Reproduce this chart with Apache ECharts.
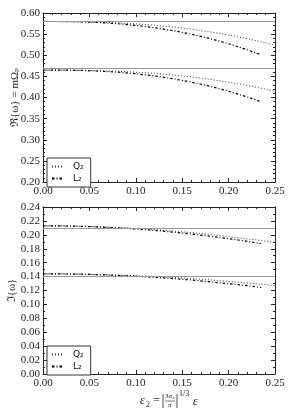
<!DOCTYPE html>
<html><head><meta charset="utf-8">
<script src="https://cdn.jsdelivr.net/npm/echarts@6/dist/echarts.min.js"></script>
<style>html,body{margin:0;padding:0;background:#fff}#c{width:293px;height:412px}</style>
</head><body><div id="c"></div>
<script>
// x samples
const xQ = [0, 0.02, 0.04, 0.06, 0.08, 0.10, 0.12, 0.14, 0.16, 0.18, 0.20, 0.22, 0.24, 0.25];
const xL = [0, 0.02, 0.04, 0.06, 0.08, 0.10, 0.12, 0.14, 0.16, 0.18, 0.20, 0.22, 0.235];
// top panel: Re{omega}
const reQ2a = [0.580, 0.5799, 0.5794, 0.5784, 0.5768, 0.5743, 0.5711, 0.5669, 0.5616, 0.5554, 0.5479, 0.5393, 0.5294, 0.524];
const reQ2b = [0.465, 0.4649, 0.4645, 0.4636, 0.4621, 0.4599, 0.4571, 0.4533, 0.4486, 0.4430, 0.4363, 0.4287, 0.4198, 0.415];
const reL2a = [0.580, 0.5798, 0.5791, 0.5774, 0.5747, 0.5707, 0.5653, 0.5584, 0.5498, 0.5394, 0.5272, 0.5130, 0.501];
const reL2b = [0.465, 0.4648, 0.4641, 0.4625, 0.4600, 0.4562, 0.4510, 0.4445, 0.4363, 0.4265, 0.4149, 0.4014, 0.390];
const reRef = [0.58, 0.465];
// bottom panel: Im{omega}
const imQ2a = [0.213, 0.2128, 0.2124, 0.2116, 0.2105, 0.2092, 0.2075, 0.2055, 0.2032, 0.2006, 0.1976, 0.1944, 0.1909, 0.189];
const imQ2b = [0.144, 0.1439, 0.1436, 0.1430, 0.1422, 0.1413, 0.1401, 0.1387, 0.1371, 0.1352, 0.1331, 0.1308, 0.1284, 0.127];
const imL2a = [0.213, 0.2128, 0.2123, 0.2113, 0.2100, 0.2084, 0.2063, 0.2040, 0.2012, 0.1980, 0.1945, 0.1907, 0.1875];
const imL2b = [0.144, 0.1438, 0.1435, 0.1427, 0.1417, 0.1405, 0.1389, 0.1371, 0.1350, 0.1325, 0.1298, 0.1269, 0.1245];
const imRef = [0.213, 0.144];
const names = ['Q\u2082', 'L\u2082'];

const FONT = '"Liberation Serif", "DejaVu Serif", serif';
const pairs = (xs, ys) => xs.map((x, i) => [x, ys[i]]);
const styleQ = {color: '#333', width: 1, type: [1, 2]};
const styleL = {color: '#000', width: 1.2, type: [2.5, 2, 1, 2]};

function xAx(grid, pos, labels) {
  return {type: 'value', gridIndex: grid, position: pos, min: 0, max: 0.25, interval: 0.05,
    axisLine: {show: true, onZero: false, lineStyle: {color: '#222', width: 1}},
    axisTick: {show: true, inside: true, length: 4, lineStyle: {color: '#222'}},
    minorTick: {show: true, splitNumber: 5, length: 2, lineStyle: {color: '#222'}},
    splitLine: {show: false},
    axisLabel: {show: labels, margin: 4, fontFamily: FONT, fontSize: 11, color: '#222',
      formatter: v => v.toFixed(2)}};
}
function yAx(grid, pos, labels, min, max, itv, minor, name, gap) {
  return {type: 'value', gridIndex: grid, position: pos, min: min, max: max, interval: itv,
    axisLine: {show: true, onZero: false, lineStyle: {color: '#222', width: 1}},
    axisTick: {show: true, inside: true, length: 4, lineStyle: {color: '#222'}},
    minorTick: {show: true, splitNumber: minor, length: 2, lineStyle: {color: '#222'}},
    splitLine: {show: false},
    name: name || '', nameLocation: 'middle', nameGap: gap || 0, nameMoveOverlap: false,
    nameTextStyle: {fontFamily: FONT, fontSize: 11, color: '#222',
      rich: {s: {fontFamily: '"DejaVu Serif", serif', fontSize: 10, color: '#222'}}},
    axisLabel: {show: labels, margin: 3, fontFamily: FONT, fontSize: 11, color: '#222',
      formatter: v => v.toFixed(2)}};
}
function ln(name, xi, yi, xs, ys, st) {
  return {type: 'line', name: name, xAxisIndex: xi, yAxisIndex: yi, data: pairs(xs, ys),
    showSymbol: false, symbol: 'none', lineStyle: st, itemStyle: {color: st.color},
    z: 3, silent: true, animation: false};
}
function refLine(xi, yi, vals) {
  return {type: 'line', xAxisIndex: xi, yAxisIndex: yi, data: [], silent: true, animation: false,
    markLine: {silent: true, symbol: 'none', label: {show: false},
      lineStyle: {color: '#999', width: 1, type: 'solid'},
      data: vals.map(v => ({yAxis: v}))}};
}
const legendBase = {orient: 'vertical', left: 47, data: names, itemWidth: 12, itemHeight: 8, itemGap: 3,
  backgroundColor: '#fff', borderColor: '#333', borderWidth: 1, borderRadius: 0, padding: [4, 7, 4, 4],
  selectedMode: false, itemStyle: {opacity: 0},
  textStyle: {fontFamily: '"DejaVu Sans", sans-serif', fontSize: 9, color: '#111', padding: [0, 0, 0, 4]}};

const chart = echarts.init(document.getElementById('c'), null, {renderer: 'canvas'});
chart.setOption({
  animation: false,
  backgroundColor: '#fff',
  grid: [{left: 43, top: 13, width: 232, height: 169, containLabel: false, outerBoundsMode: 'none'},
         {left: 43, top: 207, width: 232, height: 167, containLabel: false, outerBoundsMode: 'none'}],
  xAxis: [xAx(0, 'bottom', true), xAx(0, 'top', false), xAx(1, 'bottom', true), xAx(1, 'top', false)],
  yAxis: [
    yAx(0, 'left', true, 0.2, 0.6, 0.05, 5, '\u211C{\u03C9} = m\u03A9{s|\u209A}', 22),
    yAx(0, 'right', false, 0.2, 0.6, 0.05, 5),
    yAx(1, 'left', true, 0, 0.24, 0.02, 2, '\u2111{\u03C9}', 25),
    yAx(1, 'right', false, 0, 0.24, 0.02, 2)
  ],
  legend: [Object.assign({}, legendBase, {top: 158}), Object.assign({}, legendBase, {top: 346})],
  series: [
    refLine(0, 0, reRef),
    refLine(2, 2, imRef),
    ln(names[0], 0, 0, xQ, reQ2a, styleQ),
    ln(names[0], 0, 0, xQ, reQ2b, styleQ),
    ln(names[1], 0, 0, xL, reL2a, styleL),
    ln(names[1], 0, 0, xL, reL2b, styleL),
    ln(names[0], 2, 2, xQ, imQ2a, styleQ),
    ln(names[0], 2, 2, xQ, imQ2b, styleQ),
    ln(names[1], 2, 2, xL, imL2a, styleL),
    ln(names[1], 2, 2, xL, imL2b, styleL)
  ],
  graphic: [{
    type: 'group', left: 140, top: 390,
    children: [
      {type: 'text', x: 0, y: 4, style: {text: '\u03B5', font: 'italic 12px ' + FONT, fill: '#222'}},
      {type: 'text', x: 6, y: 10, style: {text: '2', font: '8px ' + FONT, fill: '#222'}},
      {type: 'text', x: 13, y: 4, style: {text: '=', font: '12px ' + FONT, fill: '#222'}},
      {type: 'line', shape: {x1: 23, y1: 3, x2: 23, y2: 17}, style: {stroke: '#222', lineWidth: 0.8}},
      {type: 'text', x: 25, y: 2, style: {text: '3\u03B1\u2082', font: 'italic 7px ' + FONT, fill: '#222'}},
      {type: 'line', shape: {x1: 25, y1: 10, x2: 35, y2: 10}, style: {stroke: '#222', lineWidth: 0.6}},
      {type: 'text', x: 28, y: 10.5, style: {text: '\u03C0', font: 'italic 7px ' + FONT, fill: '#222'}},
      {type: 'line', shape: {x1: 37, y1: 3, x2: 37, y2: 17}, style: {stroke: '#222', lineWidth: 0.8}},
      {type: 'text', x: 39, y: -1, style: {text: '1/3', font: '8px ' + FONT, fill: '#222'}},
      {type: 'text', x: 53, y: 5, style: {text: '\u03B5', font: 'italic 12px ' + FONT, fill: '#222'}}
    ]
  }]
});
</script></body></html>
